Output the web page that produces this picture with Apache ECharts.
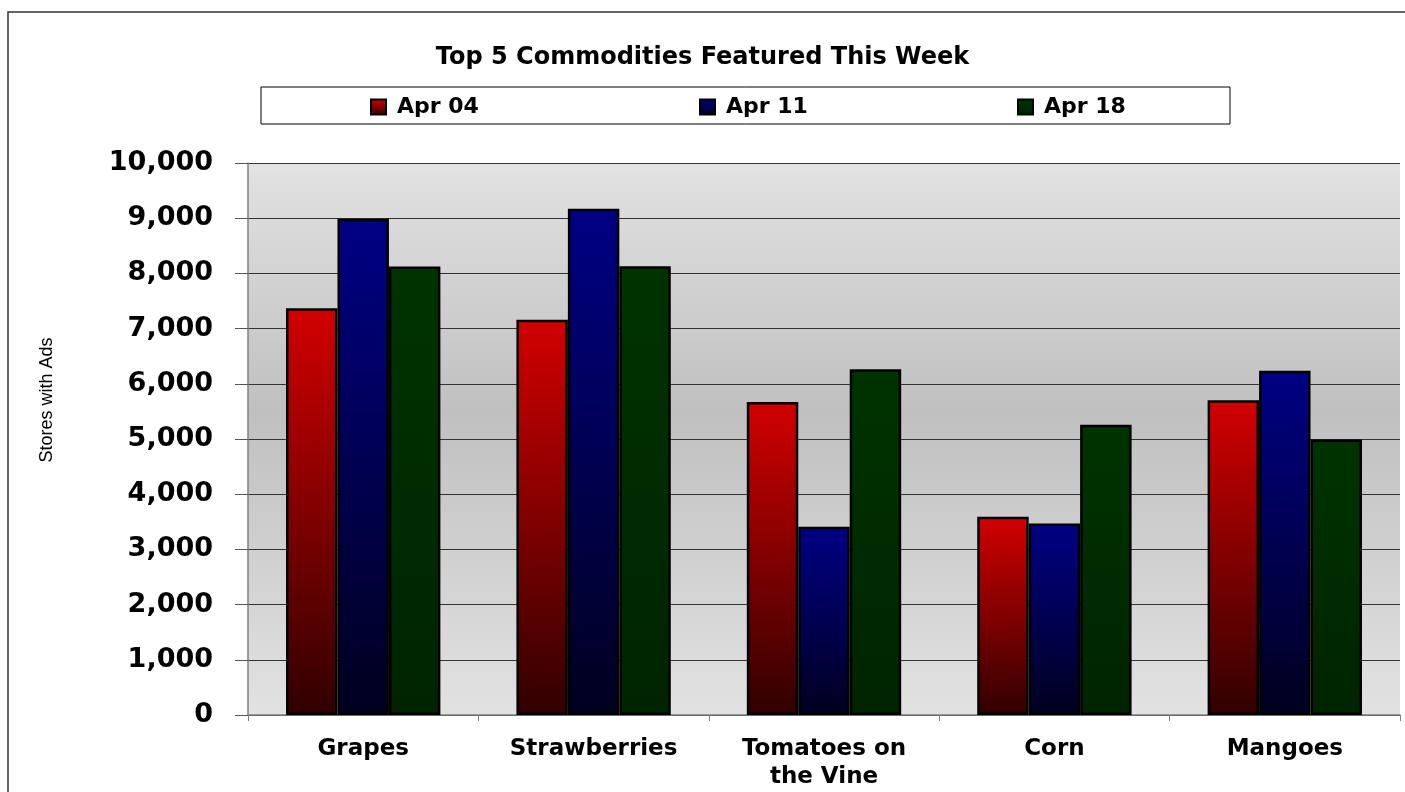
<!DOCTYPE html>
<html>
<head>
<meta charset="utf-8">
<script src="https://cdn.jsdelivr.net/npm/echarts@6/dist/echarts.min.js"></script>
<style>
  html, body { margin: 0; padding: 0; background: #fff; }
  #chart { width: 1405px; height: 792px; }
</style>
</head>
<body>
<div id="chart"></div>
<script>
const categories = ['Grapes', 'Strawberries', 'Tomatoes on\nthe Vine', 'Corn', 'Mangoes'];
const seriesNames = ['Apr 04', 'Apr 11', 'Apr 18'];
const apr04 = [7370, 7160, 5670, 3590, 5700];
const apr11 = [8990, 9170, 3410, 3470, 6235];
const apr18 = [8125, 8130, 6265, 5260, 4990];

const chart = echarts.init(document.getElementById('chart'));
const wide = '"DejaVu Sans", Verdana, sans-serif';
const arial = 'Arial, "Liberation Sans", sans-serif';

function grad(top, bottom) {
    return new echarts.graphic.LinearGradient(0, 0, 0, 1, [
        { offset: 0, color: top },
        { offset: 1, color: bottom }
    ]);
}

const colors = [
    grad('#d20000', '#300000'),
    grad('#000084', '#00001e'),
    grad('#003300', '#002400')
];

const values = [apr04, apr11, apr18];
const legendLeft = [365, 694, 1012];

const option = {
    animation: false,
    title: {
        text: 'Top 5 Commodities Featured This Week',
        left: 'center',
        top: 41,
        textStyle: { fontFamily: wide, fontSize: 24, fontWeight: 'bold', color: '#000' }
    },
    legend: seriesNames.map((name, i) => ({
        left: legendLeft[i],
        top: 91,
        itemWidth: 15,
        itemHeight: 15,
        icon: 'rect',
        data: [name],
        textStyle: {
            fontFamily: wide, fontSize: 22, fontWeight: 'bold', color: '#000',
            padding: [0, 0, 0, 6]
        }
    })),
    graphic: [
        {
            type: 'rect',
            shape: { x: 8, y: 12, width: 1420, height: 800 },
            style: { fill: 'none', stroke: '#333', lineWidth: 1.5 },
            silent: true
        },
        {
            type: 'rect',
            shape: { x: 261, y: 87, width: 969, height: 37 },
            style: { fill: 'none', stroke: '#000', lineWidth: 1 },
            silent: true
        }
    ],
    grid: {
        left: 248,
        right: 5,
        top: 163,
        bottom: 77,
        show: true,
        borderWidth: 0,
        backgroundColor: new echarts.graphic.LinearGradient(0, 0, 0, 1, [
            { offset: 0, color: '#e2e2e2' },
            { offset: 0.45, color: '#c0c0c0' },
            { offset: 1, color: '#e2e2e2' }
        ])
    },
    xAxis: {
        type: 'category',
        data: categories,
        axisLine: { lineStyle: { color: '#808080', width: 1.5 } },
        axisTick: { show: true, length: 6, lineStyle: { color: '#808080' } },
        axisLabel: {
            margin: 20,
            fontFamily: wide,
            fontSize: 23,
            fontWeight: 'bold',
            color: '#000',
            lineHeight: 28
        }
    },
    yAxis: {
        type: 'value',
        min: 0,
        max: 10000,
        interval: 1000,
        name: 'Stores with Ads',
        nameLocation: 'middle',
        nameGap: 192,
        nameRotate: 90,
        nameTextStyle: { fontFamily: arial, fontSize: 18, color: '#000', padding: [0, 0, 0, 78] },
        axisLine: { show: true, lineStyle: { color: '#808080', width: 1.5 } },
        axisTick: { show: true, length: 13, lineStyle: { color: '#555' } },
        axisLabel: {
            margin: 35,
            fontFamily: wide,
            fontSize: 27,
            fontWeight: 'bold',
            color: '#000',
            formatter: v => v.toLocaleString('en-US')
        },
        splitLine: { lineStyle: { color: '#333', width: 1 } }
    },
    series: seriesNames.map((name, i) => ({
        name: name,
        type: 'bar',
        data: values[i],
        barGap: '0%',
        barCategoryGap: '33%',
        itemStyle: {
            color: colors[i],
            borderColor: '#000',
            borderWidth: 2.5
        }
    }))
};

chart.setOption(option);
</script>
</body>
</html>
